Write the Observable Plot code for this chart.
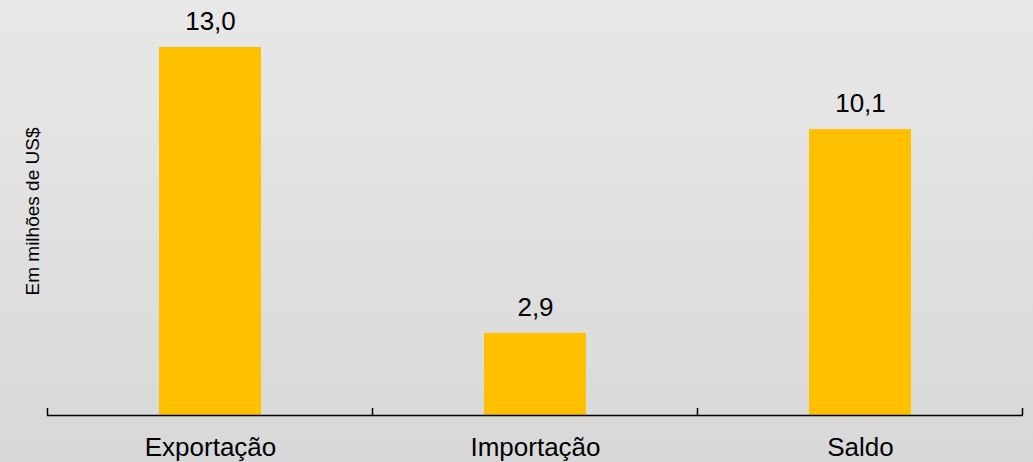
<!DOCTYPE html>
<html>
<head>
<meta charset="utf-8">
<script src="https://cdn.jsdelivr.net/npm/d3@7"></script>
<script src="https://cdn.jsdelivr.net/npm/@observablehq/plot@0.6"></script>
<style>
  html, body { margin: 0; padding: 0; }
  body { width: 1033px; height: 462px; overflow: hidden; background: linear-gradient(#e8e8e8, #d8d8d8); }
  svg { display: block; }
</style>
</head>
<body>
<div id="chart"></div>
<script>
const categories = ["Exportação", "Importação", "Saldo"];
const values = [13.0, 2.9, 10.1];
const valueLabels = ["13,0", "2,9", "10,1"];
const yLabel = "Em milhões de US$";

const data = categories.map((c, i) => ({cat: c, value: values[i], label: valueLabels[i]}));

const W = 1033, H = 462;

const boundaryTicks = (index, scales, values, dims) => {
  const x = scales.x, y = scales.y;
  const bw = typeof x.bandwidth === "function" ? x.bandwidth() : x.bandwidth;
  const step = x(categories[1]) - x(categories[0]);
  const y0 = y(0);
  const g = d3.create("svg:g");
  const bounds = categories.map(c => x(c) + bw / 2 - step / 2);
  bounds.push(x(categories[categories.length - 1]) + bw / 2 + step / 2);
  for (const bx of bounds) {
    g.append("line").attr("x1", bx).attr("x2", bx).attr("y1", y0).attr("y2", y0 - 7)
      .attr("stroke", "#000").attr("stroke-width", 1.5);
  }
  return g.node();
};

const chart = Plot.plot({
  width: W,
  height: H,
  marginLeft: 47,
  marginRight: 10,
  marginTop: 47,
  marginBottom: 47,
  style: {background: "transparent", fontFamily: "Liberation Sans, Arial, sans-serif", color: "#000", overflow: "visible"},
  x: {domain: categories, paddingInner: 0.686, paddingOuter: 0.343, label: null},
  y: {domain: [0, 13], label: null, axis: null},
  marks: [
    Plot.barY(data, {x: "cat", y: "value", fill: "#FFC000"}),
    Plot.ruleY([0], {stroke: "#000", strokeWidth: 1.5}),
    boundaryTicks,
    Plot.text(data, {x: "cat", y: "value", text: "label", dy: -26, fontSize: 26, fill: "#000"}),
    Plot.axisX({tickSize: 0, tickPadding: 22, fontSize: 26, label: null}),
    Plot.text([yLabel], {frameAnchor: "left", textAnchor: "middle", dx: -15, dy: -20, rotate: -90, fontSize: 19, fill: "#000", text: d => d})
  ]
});
document.getElementById("chart").appendChild(chart);
</script>
</body>
</html>
